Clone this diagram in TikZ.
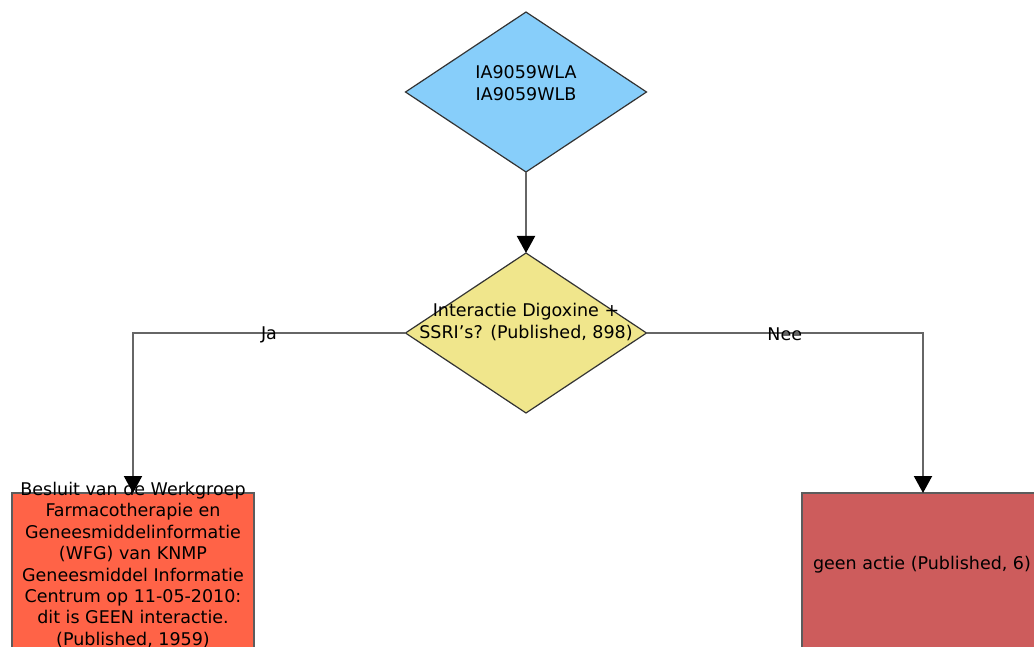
\documentclass[tikz,border=0pt]{standalone}
\usepackage{fontspec}
\setmainfont{DejaVu Sans}
\usetikzlibrary{shapes.geometric,arrows.meta}
\definecolor{skyb}{HTML}{87CEFA}
\definecolor{khaki}{HTML}{F0E68C}
\definecolor{tomatoc}{HTML}{FF6347}
\definecolor{indred}{HTML}{CD5C5C}
\definecolor{edgec}{HTML}{333333}
\definecolor{linec}{HTML}{666666}
\tikzset{
  dia/.style={shape=diamond, draw=edgec, line width=1.2pt, minimum width=241pt, minimum height=160pt, inner sep=0pt, outer sep=0pt},
  boxn/.style={shape=rectangle, draw=edgec!80, line width=1.2pt, minimum width=242pt, minimum height=220pt, inner sep=0pt, outer sep=0pt, anchor=north},
  txt/.style={font=\fontsize{17.5}{21.4}\selectfont, align=center, text=black, inner sep=0pt},
  conn/.style={draw=linec, line width=2pt, -{Triangle[width=18pt,length=17pt,color=black]}},
  lbl/.style={font=\fontsize{17.5}{21}\selectfont, text=black, inner sep=0pt}
}
\begin{document}
\begin{tikzpicture}[x=1pt,y=-1pt]
\useasboundingbox (0,0) rectangle (1034,647);
\clip (0,0) rectangle (1034,647);
\node[dia, fill=skyb] (d1) at (526,92) {};
\node[txt] (t1) at (526,83) {IA9059WLA\\IA9059WLB};
\node[dia, fill=khaki] (d2) at (526,333) {};
\node[txt] (t2) at (526,322) {Interactie Digoxine +\\SSRI's? (Published, 898)};
\node[boxn, fill=tomatoc] (b1) at (133,493) {};
\node[boxn, fill=indred] (b2) at (923,493) {};
\node[txt] (t3) at (133,565) {Besluit van de Werkgroep\\Farmacotherapie en\\Geneesmiddelinformatie\\(WFG) van KNMP\\Geneesmiddel Informatie\\Centrum op 11-05-2010:\\dit is GEEN interactie.\\(Published, 1959)};
\node[txt] (t4) at (922,565) {geen actie (Published, 6)};
\draw[conn] (d1.south) -- (d2.north);
\draw[conn] (d2.west) -| (b1.north) node[lbl, pos=0.5, xshift=136pt, yshift=-2pt] (ja) {Ja};
\draw[conn] (d2.east) -| (b2.north) node[lbl, pos=0.25, yshift=-1pt] (nee) {Nee};
\end{tikzpicture}
\end{document}
